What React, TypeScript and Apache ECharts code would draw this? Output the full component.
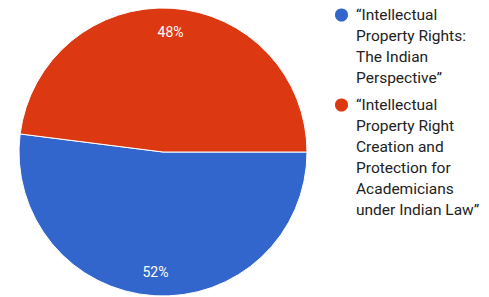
import React, { useEffect, useRef } from "react";
import * as echarts from "echarts";

const categories = [
  "“Intellectual Property Rights: The Indian Perspective”",
  "“Intellectual Property Right Creation and Protection for Academicians under Indian Law”",
];
const percentages = [52, 48];
const legendLines = [
  ["“Intellectual", "Property Rights:", "The Indian", "Perspective”"],
  ["“Intellectual", "Property Right", "Creation and", "Protection for", "Academicians", "under Indian Law”"],
];
const colors = ["#3366cc", "#dc3912"];

const LINE_H = 21;
const ICON = 15;
const FONT = "Roboto, 'Noto Sans', sans-serif";

export default function App() {
  const ref = useRef<HTMLDivElement>(null);
  useEffect(() => {
    if (!ref.current) return;
    const chart = echarts.init(ref.current, null, { renderer: "svg" });
    const iconCenters = [15, 105];
    const legends = categories.map((name, i) => {
      const n = legendLines[i].length;
      const half = ((2 * n - 1) * LINE_H) / 2;
      return {
        orient: "vertical",
        left: 333,
        top: iconCenters[i] - half,
        padding: 0,
        itemWidth: ICON,
        itemHeight: ICON,
        icon: "circle",
        selectedMode: false,
        data: [name],
        formatter: (nm: string) => {
          const idx = categories.indexOf(nm);
          const lines = legendLines[idx];
          const blanks = new Array(lines.length - 1).fill(" ");
          return blanks.concat(lines).join("\n");
        },
        textStyle: {
          fontFamily: FONT,
          fontSize: 15.5,
          color: "#222222",
          lineHeight: LINE_H,
          padding: [0, 0, 0, 2],
        },
      };
    });
    const data = categories.map((name, i) => ({
      name,
      value: percentages[i],
      itemStyle: { color: colors[i] },
    }));
    chart.setOption({
      animation: false,
      color: colors,
      legend: legends,
      series: [
        {
          type: "pie",
          center: [163, 152],
          radius: 144,
          startAngle: 0,
          clockwise: true,
          label: { show: false },
          labelLine: { show: false },
          itemStyle: { borderColor: "#ffffff", borderWidth: 1 },
          emphasis: { disabled: true },
          data,
        },
        {
          type: "pie",
          center: [163, 152],
          radius: [0, 234],
          startAngle: 0,
          clockwise: true,
          silent: true,
          emphasis: { disabled: true },
          itemStyle: { color: "rgba(0,0,0,0)", borderWidth: 0 },
          label: {
            show: true,
            position: "inside",
            formatter: "{c}%",
            color: "#ffffff",
            fontFamily: FONT,
            fontSize: 14,
          },
          labelLine: { show: false },
          data: categories.map((name, i) => ({ name, value: percentages[i] })),
        },
      ],
    });
    return () => chart.dispose();
  }, []);
  return (
    <div
      ref={ref}
      style={{ position: "fixed", left: 0, top: 0, width: 489, height: 297, background: "#ffffff" }}
    />
  );
}
